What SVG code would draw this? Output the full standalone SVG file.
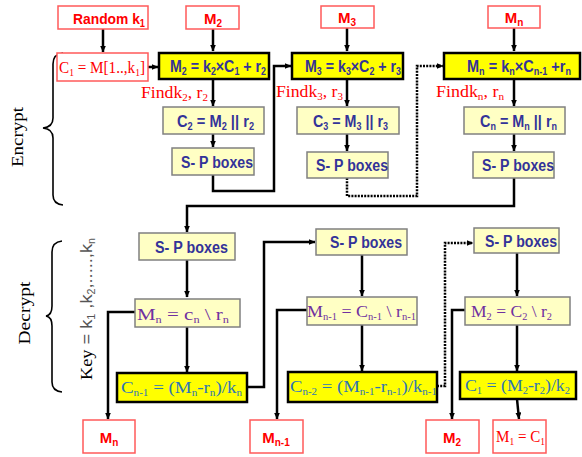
<svg xmlns="http://www.w3.org/2000/svg" width="582" height="457" viewBox="0 0 582 457">
<defs>
<marker id="ah" markerWidth="7" markerHeight="6" refX="6.5" refY="3" orient="auto" markerUnits="userSpaceOnUse"><path d="M0,0 L7,3 L0,6 z" fill="#000"/></marker>
<style>
.rb{fill:#fff;stroke:#ff5a5a;stroke-width:1.5}
.yb{fill:#ffff00;stroke:#000;stroke-width:2.5}
.lb{fill:#ffffc4;stroke:#808080;stroke-width:1.5}
.c{fill:none;stroke:#000;stroke-width:2.5}
.d{stroke-dasharray:2 1.2}
.br{fill:none;stroke:#000;stroke-width:1.6}
.rt{font-family:"Liberation Sans",Arial,sans-serif;font-weight:bold;font-size:15px;fill:#ff0000}
.nt{font-family:"Liberation Sans",Arial,sans-serif;font-weight:bold;font-size:16px;fill:#333399}
.fs{font-family:"Liberation Serif","Times New Roman",serif;font-size:16px;fill:#ff0000}
.pt{font-family:"Liberation Serif","Times New Roman",serif;font-size:17px;fill:#7030a0}
.bt{font-family:"Liberation Serif","Times New Roman",serif;font-size:17px;fill:#2e75b6}
.lab{font-family:"Liberation Serif","Times New Roman",serif;font-size:17px;fill:#000}
.s{font-size:10px}
</style>
</defs>

<g id="connectors">
<path class="c" d="M103,29 V52" marker-end="url(#ah)"/>
<path class="c" d="M213,29 V51" marker-end="url(#ah)"/>
<path class="c" d="M347,28 V51" marker-end="url(#ah)"/>
<path class="c" d="M514,28 V51" marker-end="url(#ah)"/>
<path class="c" d="M148,67 H158" marker-end="url(#ah)"/>
<path class="c" d="M213,79 V106" marker-end="url(#ah)"/>
<path class="c" d="M213,134 V147" marker-end="url(#ah)"/>
<path class="c" d="M213,175 V191 H274 V66 H291" marker-end="url(#ah)"/>
<path class="c" d="M347,79 V106" marker-end="url(#ah)"/>
<path class="c" d="M347,134 V151" marker-end="url(#ah)"/>
<path class="c d" d="M347,178 V196 H417 V66 H443" marker-end="url(#ah)"/>
<path class="c" d="M514,79 V106" marker-end="url(#ah)"/>
<path class="c" d="M514,134 V151" marker-end="url(#ah)"/>
<path class="c" d="M514,178 V206 H187 V232" marker-end="url(#ah)"/>
<path class="c" d="M187,260 V297" marker-end="url(#ah)"/>
<path class="c" d="M135,312 H108 V419" marker-end="url(#ah)"/>
<path class="c" d="M187,327 V372" marker-end="url(#ah)"/>
<path class="c" d="M247,387 H264 V242 H315" marker-end="url(#ah)"/>
<path class="c" d="M362,255 V296" marker-end="url(#ah)"/>
<path class="c" d="M307,310 H277 V419" marker-end="url(#ah)"/>
<path class="c" d="M362,325 V371" marker-end="url(#ah)"/>
<path class="c d" d="M437,386 H445 V243 H473" marker-end="url(#ah)"/>
<path class="c" d="M517,253 V296" marker-end="url(#ah)"/>
<path class="c" d="M465,310 H452 V419" marker-end="url(#ah)"/>
<path class="c" d="M517,325 V371" marker-end="url(#ah)"/>
<path class="c" d="M517,399 L519,419" marker-end="url(#ah)"/>
</g>

<g id="labels">
<path class="br" d="M63,53 Q53,54 53,64 V118 Q53,127 43,128 Q53,129 53,138 V195 Q53,204 63,205"/>
<path class="br" d="M62,241 Q52,242 52,252 V306 Q52,315 46,316 Q52,317 52,326 V382 Q52,391 62,392"/>
<text class="lab" transform="translate(23,137) rotate(-90)" text-anchor="middle" textLength="60" lengthAdjust="spacingAndGlyphs">Encrypt</text>
<text class="lab" transform="translate(30,313) rotate(-90)" text-anchor="middle" textLength="63" lengthAdjust="spacingAndGlyphs">Decrypt</text>
<text transform="translate(92,309) rotate(-90)" text-anchor="middle" textLength="142" lengthAdjust="spacingAndGlyphs" style="font-size:17px"><tspan font-family="Liberation Serif,serif" fill="#000">Key</tspan><tspan font-family="Liberation Sans,sans-serif" fill="#555"> = k<tspan class="s" dy="3">1</tspan><tspan dy="-3"> ,k</tspan><tspan class="s" dy="3">2</tspan><tspan dy="-3">,.....,k</tspan><tspan class="s" dy="3">n</tspan></tspan></text>
<text class="fs" x="141" y="98" textLength="67" lengthAdjust="spacingAndGlyphs">Findk<tspan class="s" dy="3">2</tspan><tspan dy="-3">, r</tspan><tspan class="s" dy="3">2</tspan></text>
<text class="fs" x="276" y="97" textLength="67" lengthAdjust="spacingAndGlyphs">Findk<tspan class="s" dy="3">3</tspan><tspan dy="-3">, r</tspan><tspan class="s" dy="3">3</tspan></text>
<text class="fs" x="436" y="97" textLength="68" lengthAdjust="spacingAndGlyphs">Findk<tspan class="s" dy="3">n</tspan><tspan dy="-3">, r</tspan><tspan class="s" dy="3">n</tspan></text>
</g>

<g id="in-k1"><rect class="rb" x="58" y="6" width="90" height="23"/><text class="rt" x="73" y="24" textLength="72" lengthAdjust="spacingAndGlyphs">Random k<tspan class="s" dy="3">1</tspan></text></g>
<g id="in-m2"><rect class="rb" x="186" y="6" width="53" height="23"/><text class="rt" x="213" y="24" text-anchor="middle">M<tspan class="s" dy="3">2</tspan></text></g>
<g id="in-m3"><rect class="rb" x="321" y="6" width="53" height="22"/><text class="rt" x="347" y="23" text-anchor="middle">M<tspan class="s" dy="3">3</tspan></text></g>
<g id="in-mn"><rect class="rb" x="488" y="6" width="52" height="22"/><text class="rt" x="514" y="23" text-anchor="middle">M<tspan class="s" dy="3">n</tspan></text></g>

<g id="c1"><rect class="rb" x="57" y="53" width="91" height="28"/><text class="fs" x="59" y="73" textLength="86" lengthAdjust="spacingAndGlyphs">C<tspan class="s" dy="3">1</tspan><tspan dy="-3"> = M[1..,k</tspan><tspan class="s" dy="3">1</tspan><tspan dy="-3">]</tspan></text></g>

<g id="enc-m2"><rect class="yb" x="159" y="53" width="110" height="26"/><text class="nt" x="170" y="72" textLength="96" lengthAdjust="spacingAndGlyphs">M<tspan class="s" dy="3">2</tspan><tspan dy="-3"> = k</tspan><tspan class="s" dy="3">2</tspan><tspan dy="-3">×C</tspan><tspan class="s" dy="3">1</tspan><tspan dy="-3"> + r</tspan><tspan class="s" dy="3">2</tspan></text></g>
<g id="enc-m3"><rect class="yb" x="292" y="53" width="111" height="26"/><text class="nt" x="305" y="72" textLength="96" lengthAdjust="spacingAndGlyphs">M<tspan class="s" dy="3">3</tspan><tspan dy="-3"> = k</tspan><tspan class="s" dy="3">3</tspan><tspan dy="-3">×C</tspan><tspan class="s" dy="3">2</tspan><tspan dy="-3"> + r</tspan><tspan class="s" dy="3">3</tspan></text></g>
<g id="enc-mn"><rect class="yb" x="444" y="53" width="136" height="26"/><text class="nt" x="467" y="72" textLength="104" lengthAdjust="spacingAndGlyphs">M<tspan class="s" dy="3">n</tspan><tspan dy="-3"> = k</tspan><tspan class="s" dy="3">n</tspan><tspan dy="-3">×C</tspan><tspan class="s" dy="3">n-1</tspan><tspan dy="-3"> +r</tspan><tspan class="s" dy="3">n</tspan></text></g>

<g id="enc-c2"><rect class="lb" x="163" y="107" width="101" height="27"/><text class="nt" x="177" y="127" textLength="77" lengthAdjust="spacingAndGlyphs">C<tspan class="s" dy="3">2</tspan><tspan dy="-3"> = M</tspan><tspan class="s" dy="3">2</tspan><tspan dy="-3"> || r</tspan><tspan class="s" dy="3">2</tspan></text></g>
<g id="enc-c3"><rect class="lb" x="297" y="107" width="102" height="27"/><text class="nt" x="313" y="127" textLength="75" lengthAdjust="spacingAndGlyphs">C<tspan class="s" dy="3">3</tspan><tspan dy="-3"> = M</tspan><tspan class="s" dy="3">3</tspan><tspan dy="-3"> || r</tspan><tspan class="s" dy="3">3</tspan></text></g>
<g id="enc-cn"><rect class="lb" x="464" y="107" width="101" height="27"/><text class="nt" x="480" y="127" textLength="77" lengthAdjust="spacingAndGlyphs">C<tspan class="s" dy="3">n</tspan><tspan dy="-3"> = M</tspan><tspan class="s" dy="3">n</tspan><tspan dy="-3"> || r</tspan><tspan class="s" dy="3">n</tspan></text></g>

<g id="enc-sp1"><rect class="lb" x="172" y="148" width="82" height="27"/><text class="nt" x="181" y="168" textLength="72" lengthAdjust="spacingAndGlyphs">S- P boxes</text></g>
<g id="enc-sp2"><rect class="lb" x="307" y="152" width="81" height="26"/><text class="nt" x="316" y="171" textLength="72" lengthAdjust="spacingAndGlyphs">S- P boxes</text></g>
<g id="enc-sp3"><rect class="lb" x="473" y="152" width="81" height="26"/><text class="nt" x="482" y="171" textLength="72" lengthAdjust="spacingAndGlyphs">S- P boxes</text></g>

<g id="dec-sp1"><rect class="lb" x="139" y="233" width="96" height="27"/><text class="nt" x="155" y="253" textLength="73" lengthAdjust="spacingAndGlyphs">S- P boxes</text></g>
<g id="dec-sp2"><rect class="lb" x="316" y="229" width="91" height="26"/><text class="nt" x="330" y="248" textLength="72" lengthAdjust="spacingAndGlyphs">S- P boxes</text></g>
<g id="dec-sp3"><rect class="lb" x="474" y="228" width="85" height="25"/><text class="nt" x="485" y="247" textLength="72" lengthAdjust="spacingAndGlyphs">S- P boxes</text></g>

<g id="dec-mn"><rect class="lb" x="135" y="299" width="105" height="28"/><text class="pt" x="137" y="320" textLength="92" lengthAdjust="spacingAndGlyphs">M<tspan class="s" dy="3">n</tspan><tspan dy="-3"> = c</tspan><tspan class="s" dy="3">n</tspan><tspan dy="-3"> \ r</tspan><tspan class="s" dy="3">n</tspan></text></g>
<g id="dec-mn1"><rect class="lb" x="307" y="297" width="110" height="28"/><text class="pt" x="307" y="317" textLength="109" lengthAdjust="spacingAndGlyphs">M<tspan class="s" dy="3">n-1</tspan><tspan dy="-3"> = C</tspan><tspan class="s" dy="3">n-1</tspan><tspan dy="-3"> \ r</tspan><tspan class="s" dy="3">n-1</tspan></text></g>
<g id="dec-m2"><rect class="lb" x="465" y="297" width="105" height="28"/><text class="pt" x="471" y="317" textLength="81" lengthAdjust="spacingAndGlyphs">M<tspan class="s" dy="3">2</tspan><tspan dy="-3"> = C</tspan><tspan class="s" dy="3">2</tspan><tspan dy="-3"> \ r</tspan><tspan class="s" dy="3">2</tspan></text></g>

<g id="dec-cn1"><rect class="yb" x="117" y="373" width="130" height="29"/><text class="bt" x="121" y="393" textLength="121" lengthAdjust="spacingAndGlyphs">C<tspan class="s" dy="3">n-1</tspan><tspan dy="-3"> = (M</tspan><tspan class="s" dy="3">n</tspan><tspan dy="-3">-r</tspan><tspan class="s" dy="3">n</tspan><tspan dy="-3">)/k</tspan><tspan class="s" dy="3">n</tspan></text></g>
<g id="dec-cn2"><rect class="yb" x="288" y="372" width="149" height="30"/><text class="bt" x="290" y="392" textLength="147" lengthAdjust="spacingAndGlyphs">C<tspan class="s" dy="3">n-2</tspan><tspan dy="-3"> = (M</tspan><tspan class="s" dy="3">n-1</tspan><tspan dy="-3">-r</tspan><tspan class="s" dy="3">n-1</tspan><tspan dy="-3">)/k</tspan><tspan class="s" dy="3">n-1</tspan></text></g>
<g id="dec-c1"><rect class="yb" x="460" y="372" width="116" height="27"/><text class="bt" x="465" y="391" textLength="105" lengthAdjust="spacingAndGlyphs">C<tspan class="s" dy="3">1</tspan><tspan dy="-3"> = (M</tspan><tspan class="s" dy="3">2</tspan><tspan dy="-3">-r</tspan><tspan class="s" dy="3">2</tspan><tspan dy="-3">)/k</tspan><tspan class="s" dy="3">2</tspan></text></g>

<g id="out-mn"><rect class="rb" x="83" y="420" width="52" height="33"/><text class="rt" x="109" y="443" text-anchor="middle">M<tspan class="s" dy="3">n</tspan></text></g>
<g id="out-mn1"><rect class="rb" x="250" y="420" width="53" height="33"/><text class="rt" x="276" y="443" text-anchor="middle">M<tspan class="s" dy="3">n-1</tspan></text></g>
<g id="out-m2"><rect class="rb" x="426" y="420" width="53" height="33"/><text class="rt" x="452" y="443" text-anchor="middle">M<tspan class="s" dy="3">2</tspan></text></g>
<g id="out-m1"><rect class="rb" x="493" y="420" width="53" height="33"/><text class="fs" x="496" y="442" textLength="49" lengthAdjust="spacingAndGlyphs">M<tspan class="s" dy="3">1</tspan><tspan dy="-3"> = C</tspan><tspan class="s" dy="3">1</tspan></text></g>
</svg>
